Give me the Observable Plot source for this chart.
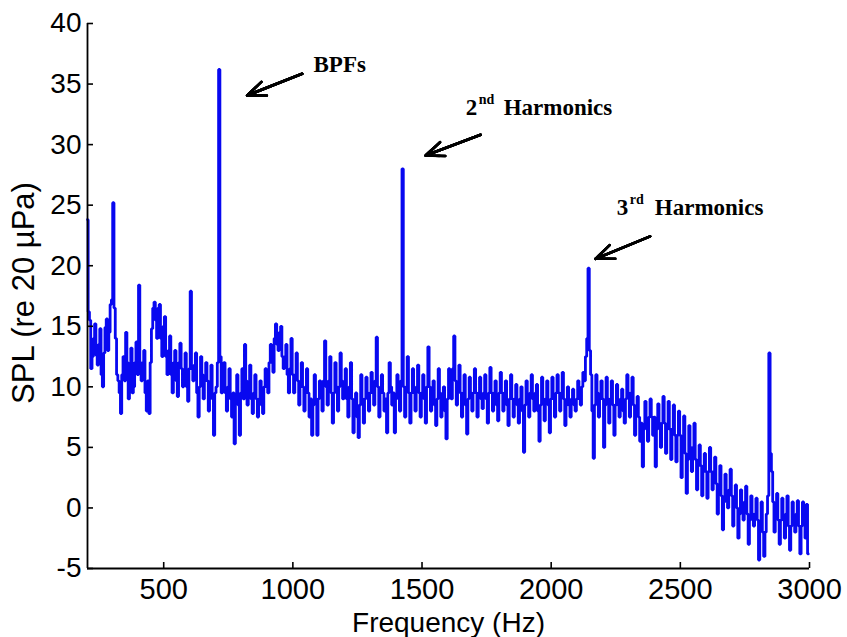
<!DOCTYPE html>
<html><head><meta charset="utf-8">
<script src="https://cdn.jsdelivr.net/npm/d3@7"></script>
<script src="https://cdn.jsdelivr.net/npm/@observablehq/plot@0.6"></script>
<style>body{margin:0;background:#fff} svg{display:block}</style>
</head><body><div id="chart"></div>
<script>
// Frequency bins (Hz): first bin and bin spacing
const freqStart = 205, freqStep = 5;
// SPL (dB re 20 µPa), one value per bin
const spl = [
 23.8, 16.2, 15.5, 11.5, 12.5, 14.0, 15.2, 12.6, 11.8, 13.5, 14.8, 11.0, 10.0, 12.8, 14.9, 15.6, 13.0, 14.5, 16.8, 17.2,
 25.2, 16.5, 14.0, 11.0, 10.5, 9.5, 7.8, 11.0, 12.5, 10.5, 14.5, 12.0, 9.0, 11.5, 13.2, 9.5, 10.0, 12.0, 13.7, 11.0,
 18.4, 12.0, 10.5, 12.0, 13.0, 9.5, 8.0, 10.5, 7.8, 12.0, 14.8, 16.5, 17.0, 15.5, 14.0, 16.5, 16.8, 14.0, 12.5, 15.0,
 15.8, 12.5, 11.0, 13.0, 14.2, 11.0, 9.5, 12.0, 13.0, 10.5, 9.2, 12.0, 13.6, 11.5, 10.0, 11.0, 12.8, 10.0, 8.8, 11.5,
 17.9, 11.5, 10.5, 11.8, 12.8, 9.5, 7.5, 10.0, 12.5, 11.0, 9.0, 10.5, 12.0, 10.5, 8.0, 10.0, 11.8, 9.0, 6.0, 9.5,
 10.0, 12.0, 36.2, 12.5, 9.5, 11.0, 12.0, 9.5, 8.0, 10.0, 11.5, 9.0, 7.5, 9.5, 5.3, 9.0, 11.0, 8.5, 6.0, 9.5,
 11.5, 9.0, 13.5, 10.5, 8.5, 10.0, 11.8, 9.0, 7.8, 9.5, 11.0, 9.0, 7.5, 9.0, 10.5, 8.5, 7.8, 10.0, 11.5, 10.0,
 9.5, 12.0, 13.5, 12.0, 11.2, 14.0, 15.2, 13.5, 13.0, 14.5, 15.0, 12.5, 11.5, 12.5, 13.5, 11.0, 9.5, 11.5, 14.0, 11.0,
 9.5, 11.0, 12.8, 10.5, 8.5, 10.0, 12.0, 10.0, 8.0, 9.5, 11.5, 9.5, 7.5, 9.0, 6.0, 8.5, 11.0, 9.0, 6.0, 9.0,
 10.5, 9.5, 8.0, 10.5, 13.8, 10.0, 8.5, 10.5, 12.5, 9.5, 7.0, 9.5, 12.0, 10.0, 8.0, 10.0, 12.8, 10.5, 9.0, 10.0,
 11.5, 9.0, 7.5, 10.0, 12.0, 9.0, 6.2, 8.0, 9.5, 7.5, 5.8, 8.5, 11.0, 9.0, 7.0, 9.0, 10.8, 9.5, 8.0, 9.5,
 11.2, 9.5, 8.5, 10.5, 14.1, 10.0, 7.5, 9.5, 11.0, 9.5, 8.0, 9.0, 6.2, 9.5, 12.0, 10.0, 8.5, 9.5, 6.2, 9.0,
 11.0, 9.5, 8.0, 10.5, 28.0, 10.0, 7.5, 10.0, 12.5, 9.5, 7.0, 9.5, 11.5, 9.5, 8.0, 10.0, 11.8, 9.5, 7.5, 9.5,
 11.0, 9.0, 7.0, 10.0, 13.3, 10.0, 8.0, 9.5, 10.5, 8.5, 6.8, 9.0, 11.5, 9.5, 7.5, 9.0, 10.0, 8.0, 5.7, 9.0,
 11.5, 10.0, 9.0, 11.5, 14.2, 10.5, 8.5, 10.0, 11.8, 9.5, 7.5, 9.5, 11.0, 8.5, 6.1, 9.0, 10.8, 9.5, 8.0, 9.5,
 11.5, 9.5, 7.5, 9.5, 10.8, 9.0, 8.2, 9.5, 11.0, 9.0, 7.0, 9.5, 11.6, 9.5, 8.0, 9.5, 10.5, 8.5, 7.2, 9.5,
 11.2, 9.5, 8.0, 9.5, 10.5, 8.5, 6.8, 9.0, 11.0, 9.0, 7.5, 9.0, 10.2, 8.5, 7.0, 9.0, 10.0, 8.0, 4.6, 8.5,
 10.5, 9.0, 7.5, 9.5, 11.0, 9.0, 8.0, 9.5, 10.2, 8.0, 5.5, 8.5, 10.8, 9.0, 7.2, 9.0, 10.5, 8.5, 6.2, 9.0,
 10.8, 9.0, 7.5, 9.5, 11.0, 9.5, 8.0, 9.5, 11.2, 9.0, 6.8, 8.5, 10.0, 8.5, 7.5, 9.0, 9.8, 8.5, 8.0, 9.0,
 10.5, 9.0, 8.5, 10.0, 11.2, 10.5, 12.5, 14.0, 19.8, 13.0, 11.0, 8.0, 4.1, 8.5, 11.0, 9.5, 7.5, 9.0, 10.5, 9.0,
 5.0, 8.5, 10.8, 9.0, 7.0, 9.0, 10.5, 8.5, 6.0, 8.5, 10.2, 8.5, 7.5, 9.0, 9.8, 8.0, 7.0, 9.0, 11.0, 9.5,
 7.5, 9.5, 10.8, 8.5, 6.0, 8.0, 9.2, 7.5, 5.5, 7.0, 3.4, 6.5, 8.8, 7.0, 5.5, 7.5, 9.0, 7.5, 6.0, 7.5,
 3.4, 6.5, 8.6, 7.0, 5.0, 7.0, 9.2, 7.0, 4.5, 6.5, 8.8, 6.5, 4.0, 6.5, 8.5, 6.0, 3.8, 6.0, 8.0, 6.0,
 2.5, 5.0, 7.6, 4.5, 1.2, 4.0, 6.8, 5.0, 3.0, 5.0, 7.0, 4.0, 1.5, 3.5, 5.2, 3.5, 1.0, 3.0, 4.5, 3.0,
 0.8, 3.0, 5.0, 3.0, 1.5, 3.0, 4.2, 2.0, -0.5, 1.5, 3.5, 1.0, -1.8, 0.5, 2.8, 1.0, 0.0, 1.5, 3.2, 1.0,
 -1.5, 0.5, 1.9, 0.0, -2.5, -0.5, 1.5, 0.0, -1.0, 0.5, 1.8, -0.5, -3.0, -1.0, 1.0, -0.5, -1.5, -0.5, 0.8, -1.0,
 -4.3, -1.5, 0.5, -2.0, -4.0, -2.0, -0.5, 1.0, 12.8, 4.5, 3.0, 0.5, -2.0, 0.0, 1.2, -1.0, -3.0, -1.0, 0.8, -1.0,
 -2.5, -0.5, 1.0, -1.5, -3.5, -1.5, 0.5, -1.0, -2.0, -0.5, 0.6, -1.5, -3.8, -1.5, 0.5, -1.0, -2.5, 0.3, -3.8
];
const xDomain = [205, 3000];
const yDomain = [-5, 40];
const xTicks = [500, 1000, 1500, 2000, 2500, 3000];
const yTicks = [-5, 0, 5, 10, 15, 20, 25, 30, 35, 40];
const xLabel = "Frequency (Hz)";
const yLabel = "SPL (re 20 \u00B5Pa)";

// Annotations (data coordinates)
const annX = [1080, 1669, 2254];
const annY = [35.98, 32.41, 24.15];
const annMain = ["BPFs", "2", "3"];
const annSup = ["", "nd", "rd"];
const annRest = ["", "Harmonics", "Harmonics"];
const arrowX1 = [1036, 1727, 2383];
const arrowY1 = [35.85, 30.81, 22.42];
const arrowX2 = [823, 1514, 2172];
const arrowY2 = [34.06, 29.1, 20.57];

const data = spl.map((v, i) => ({f: freqStart + i * freqStep, v}));
const ann = annX.map((x, i) => ({x, y: annY[i], main: annMain[i], sup: annSup[i], rest: annRest[i]}));
const arrows = arrowX1.map((x1, i) => ({x1, y1: arrowY1[i], x2: arrowX2[i], y2: arrowY2[i]}));

const sans = "Liberation Sans, Arial, Helvetica, sans-serif";
const serif = "Liberation Serif, Times New Roman, serif";
const W = 847, H = 637, mL = 87, mR = 38, mT = 23, mB = 69;

const headMarks = [20, 16, 12, 8, 4].map(h => Plot.arrow(arrows, {
  x1: "x1", y1: "y1", x2: "x2", y2: "y2",
  stroke: "black", strokeWidth: 2.6, headLength: h, headAngle: 44
}));

const chart = Plot.plot({
  width: W, height: H,
  marginLeft: mL, marginRight: mR, marginTop: mT, marginBottom: mB,
  style: {fontFamily: sans, fontSize: "28px", color: "black", background: "white"},
  x: {domain: xDomain},
  y: {domain: yDomain},
  marks: [
    Plot.axisX({ticks: xTicks, tickSize: 0, tickPadding: 10, label: null, tickFormat: d => String(d), fontSize: 29, fontFamily: sans}),
    Plot.axisY({ticks: yTicks, tickSize: 0, tickPadding: 6, label: null, tickFormat: d => String(d), fontSize: 28, fontFamily: sans}),
    Plot.line(data, {x: "f", y: "v", curve: "step", stroke: "#0808f0", strokeWidth: 2.8, strokeLinejoin: "miter"}),
    Plot.ruleX(xTicks, {stroke: "black", strokeWidth: 1.6, insetTop: (H - mT - mB) - 6}),
    Plot.ruleY(yTicks, {stroke: "black", strokeWidth: 1.6, insetRight: (W - mL - mR) - 6}),
    Plot.ruleX([xDomain[0]], {stroke: "black", strokeWidth: 1.8}),
    Plot.ruleY([yDomain[0]], {stroke: "black", strokeWidth: 1.8}),
    Plot.text([xLabel], {frameAnchor: "bottom", dy: 63, lineAnchor: "bottom", fontSize: 28, fontFamily: sans, fill: "black"}),
    Plot.text([yLabel], {frameAnchor: "left", textAnchor: "middle", dx: -54, dy: -3, rotate: -90, lineAnchor: "bottom", fontSize: 31, fontFamily: sans, fill: "black"}),
    ...headMarks,
    Plot.text(ann, {x: "x", y: "y", text: "main", textAnchor: "start", lineAnchor: "bottom", fontSize: 23, fontWeight: "bold", fontFamily: serif, fill: "black"}),
    Plot.text(ann, {x: "x", y: "y", text: "sup", textAnchor: "start", lineAnchor: "bottom", dx: 13, dy: -11, fontSize: 14, fontWeight: "bold", fontFamily: serif, fill: "black"}),
    Plot.text(ann, {x: "x", y: "y", text: "rest", textAnchor: "start", lineAnchor: "bottom", dx: 38, fontSize: 23, fontWeight: "bold", fontFamily: serif, fill: "black"})
  ]
});
document.getElementById("chart").appendChild(chart);
</script>
</body></html>
